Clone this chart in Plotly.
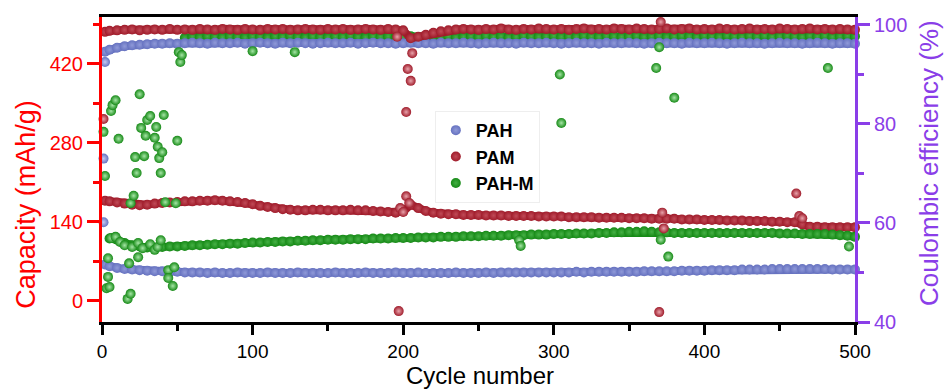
import plotly.graph_objects as go

# ---- data -----------------------------------------------------------------
# cycle positions of the dense bands
cycles = [2] + list(range(5, 501, 5))

# discharge capacity (mAh/g), one value per entry of `cycles`
pah_capacity = [
    64, 61, 58, 56, 55, 54, 53, 52, 52, 51,
    51, 50, 50, 50, 49, 50, 49, 49, 50, 49,
    49, 49, 50, 49, 49, 49, 50, 49, 49, 49,
    49, 50, 49, 49, 49, 50, 49, 49, 49, 50,
    49, 49, 50, 49, 49, 49, 49, 50, 49, 49,
    49, 50, 49, 50, 50, 50, 50, 50, 50, 50,
    50, 50, 50, 51, 50, 51, 51, 51, 51, 51,
    51, 51, 52, 52, 52, 52, 52, 53, 53, 53,
    53, 54, 54, 54, 54, 55, 55, 55, 55, 56,
    56, 56, 56, 56, 56, 56, 56, 55, 55, 55,
    55]
pam_capacity = [
    177, 176, 174, 172, 170, 169, 170, 172, 173, 174,
    175, 176, 176, 177, 177, 178, 177, 176, 175, 173,
    171, 168, 166, 164, 162, 161, 160, 160, 161, 161,
    160, 160, 160, 161, 160, 160, 159, 158, 157, 156,
    158, 170, 164, 159, 156, 154, 153, 153, 152, 152,
    152, 151, 151, 151, 150, 150, 150, 150, 149, 149,
    149, 149, 148, 148, 148, 148, 147, 147, 147, 147,
    146, 146, 146, 145, 145, 145, 145, 144, 144, 144,
    143, 143, 143, 142, 142, 142, 141, 141, 141, 140,
    140, 139, 139, 135, 131, 131, 130, 130, 130, 130,
    130]
pahm_capacity = [
    None, 110, 108, 102, 98, 96, 94, 93, 95, 96,
    96, 97, 98, 98, 99, 100, 100, 101, 101, 102,
    103, 103, 104, 104, 105, 105, 106, 106, 107, 107,
    108, 108, 108, 109, 109, 109, 110, 110, 110, 111,
    111, 111, 112, 112, 112, 113, 113, 113, 114, 114,
    114, 115, 115, 115, 116, 116, 116, 117, 117, 117,
    118, 118, 118, 119, 119, 119, 120, 120, 121, 121,
    122, 122, 123, 122, 121, 121, 120, 120, 120, 120,
    120, 120, 120, 120, 120, 120, 120, 120, 120, 120,
    119, 119, 119, 118, 118, 118, 118, 117, 116, 115,
    113]

# coulombic efficiency (%), one value per entry of `cycles`
pah_ce = [
    94.6, 95.0, 95.4, 95.7, 95.9, 96.0, 96.1, 96.2, 96.2, 96.3,
    96.2, 96.3, 96.4, 96.3, 96.2, 96.4, 96.3, 96.3, 96.4, 96.2,
    96.3, 96.4, 96.3, 96.2, 96.4, 96.3, 96.4, 96.3, 96.2, 96.3,
    96.4, 96.3, 96.3, 96.4, 96.2, 96.3, 96.4, 96.3, 96.3, 96.2,
    96.3, 96.4, 96.3, 96.3, 96.2, 96.4, 96.3, 96.3, 96.4, 96.3,
    96.2, 96.3, 96.4, 96.3, 96.3, 96.2, 96.4, 96.3, 96.3, 96.4,
    96.3, 96.2, 96.3, 96.4, 96.3, 96.3, 96.2, 96.4, 96.3, 96.3,
    96.4, 96.3, 96.2, 96.3, 96.4, 96.3, 96.3, 96.2, 96.4, 96.3,
    96.3, 96.4, 96.3, 96.2, 96.3, 96.4, 96.3, 96.3, 96.2, 96.3,
    96.4, 96.3, 96.3, 96.2, 96.3, 96.4, 96.3, 96.2, 96.3, 96.3,
    96.2]
pam_ce = [
    98.6, 98.8, 98.9, 99.0, 99.1, 98.9, 99.0, 99.1, 99.0, 99.2,
    99.0, 99.1, 99.0, 99.2, 99.1, 99.0, 99.2, 99.1, 99.0, 99.2,
    99.1, 99.0, 99.2, 99.1, 99.2, 99.0, 99.1, 99.2, 99.1, 99.0,
    99.2, 99.1, 99.2, 99.0, 99.1, 99.2, 99.1, 99.0, 99.2, 99.1,
    98.9, 97.3, 97.6, 98.0, 98.4, 98.7, 98.9, 99.1, 99.2, 99.1,
    99.0, 99.2, 99.1, 99.3, 99.1, 99.0, 99.2, 99.1, 99.3, 99.2,
    99.1, 99.2, 99.0, 99.2, 99.3, 99.1, 99.2, 99.1, 99.3, 99.2,
    99.1, 99.3, 99.2, 99.1, 99.2, 99.3, 99.1, 99.2, 99.3, 99.1,
    99.2, 99.1, 99.3, 99.2, 99.1, 99.2, 99.3, 99.1, 99.2, 99.1,
    99.3, 99.2, 99.1, 99.2, 99.3, 99.1, 99.2, 99.1, 99.2, 99.1,
    99.0]
pahm_ce = [
    None, None, None, None, None, None, None, None, None, None,
    None, 97.4, 97.6, 97.5, 97.7, 97.6, 97.5, 97.7, 97.6, 97.5,
    97.7, 97.6, 97.5, 97.7, 97.6, 97.8, 97.6, 97.5, 97.7, 97.6,
    97.5, 97.7, 97.6, 97.8, 97.6, 97.5, 97.7, 97.6, 97.7, 97.5,
    97.6, 97.7, 97.5, 97.6, 97.8, 97.6, 97.7, 97.5, 97.6, 97.7,
    97.6, 97.8, 97.6, 97.7, 97.5, 97.6, 97.8, 97.7, 97.6, 97.7,
    97.8, 97.6, 97.7, 97.6, 97.8, 97.7, 97.6, 97.8, 97.7, 97.6,
    97.7, 97.8, 97.6, 97.7, 97.8, 97.6, 97.7, 97.8, 97.7, 97.6,
    97.8, 97.7, 97.6, 97.8, 97.7, 97.6, 97.8, 97.7, 97.8, 97.6,
    97.7, 97.8, 97.7, 97.6, 97.8, 97.7, 97.8, 97.6, 97.7, 97.8,
    97.7]

# individual scattered cycles (outliers away from the bands)
pah_cap_x = [1]
pah_cap_y = [139]
pah_ce_x = [1, 2]
pah_ce_y = [73.0, 92.5]

pam_cap_x = [198, 200, 202, 204, 372, 373, 461, 463, 465]
pam_cap_y = [164, 157, 185, 173, 156, 128, 190, 150, 146]
pam_ce_x = [1, 196, 197, 202, 203, 205, 206, 370, 371]
pam_ce_y = [81.0, 97.6, 42.2, 82.4, 91.1, 88.7, 94.3, 42.0, 100.6]

pahm_cap_x = [3, 4, 4, 5, 17, 18, 19, 24,
              6, 9, 12, 15, 20, 24, 27, 32, 35, 37, 39,
              44, 44, 47, 48, 277, 278, 371, 376, 496]
pahm_cap_y = [22, 42, 75, 24, 3, 66, 12, 77,
              111, 113, 104, 98, 95, 102, 93, 100, 90, 95, 107,
              54, 40, 26, 59, 107, 97, 108, 78, 96]
pahm_ce_x = [1, 2, 6, 7, 9, 11, 22, 23, 25, 26,
             28, 29, 30, 32, 35, 36, 37, 38, 39, 40,
             41, 50, 19, 21, 42, 49, 51, 52, 53, 100,
             128, 304, 305, 368, 370, 380, 482]
pahm_ce_y = [78.4, 69.5, 82.6, 83.8, 84.8, 77.0, 73.3, 70.1, 86.0, 79.2,
             73.5, 77.6, 80.8, 81.6, 77.2, 79.4, 75.4, 73.1, 70.1, 74.3,
             81.8, 76.6, 64.0, 65.5, 64.2, 64.0, 94.5, 92.5, 93.9, 94.7,
             94.5, 90.0, 80.2, 91.3, 95.5, 85.3, 91.3]

# ---- styling ----------------------------------------------------------------
FONT = "Arial, 'Liberation Sans', sans-serif"
# (body colour, band highlight, ball highlight)
BLUE = ("#6672c0", "#8f99d8", "#c4caf2")
RED = ("#a01c2b", "#c04a57", "#e8a3ab")
GREEN = ("#178a17", "#45b045", "#a6e6a6")
CAP_RED = "#ff0000"
CE_PURPLE = "#8a3ee8"

fig = go.Figure()


def add_band(x, y, col, axis, name, rank=None):
    # dense run of cycles: a solid stroke with shaded balls on top
    fig.add_trace(go.Scatter(
        x=x, y=y, mode="lines", yaxis=axis, showlegend=False,
        hoverinfo="skip", cliponaxis=False,
        line=dict(color=col[0], width=8)))
    fig.add_trace(go.Scatter(
        x=x, y=y, mode="markers", name=name, yaxis=axis,
        showlegend=rank is not None, legendrank=rank or 1000,
        hoverinfo="skip", cliponaxis=False,
        marker=dict(size=10, color=col[0],
                    gradient=dict(type="radial", color=col[1]),
                    line=dict(width=0))))


def add_balls(x, y, col, axis, name):
    fig.add_trace(go.Scatter(
        x=x, y=y, mode="markers", name=name, yaxis=axis, showlegend=False,
        hoverinfo="skip", cliponaxis=False,
        marker=dict(size=10, color=col[0],
                    gradient=dict(type="radial", color=col[2]),
                    line=dict(width=0))))


# efficiency bands (green sits beneath the other two)
add_band(cycles, pahm_ce, GREEN, "y2", "PAH-M")
add_band(cycles, pah_ce, BLUE, "y2", "PAH")
add_band(cycles, pam_ce, RED, "y2", "PAM")
# capacity bands
add_band(cycles, pah_capacity, BLUE, "y", "PAH", 1)
add_band(cycles, pam_capacity, RED, "y", "PAM", 2)
add_band(cycles, pahm_capacity, GREEN, "y", "PAH-M", 3)
# scattered cycles
add_balls(pah_cap_x, pah_cap_y, BLUE, "y", "PAH")
add_balls(pah_ce_x, pah_ce_y, BLUE, "y2", "PAH")
add_balls(pam_cap_x, pam_cap_y, RED, "y", "PAM")
add_balls(pam_ce_x, pam_ce_y, RED, "y2", "PAM")
add_balls(pahm_cap_x, pahm_cap_y, GREEN, "y", "PAH-M")
add_balls(pahm_ce_x, pahm_ce_y, GREEN, "y2", "PAH-M")

tickfont = dict(family=FONT, size=20)

fig.update_layout(
    width=945, height=390,
    margin=dict(l=102, r=90, t=17, b=68),
    paper_bgcolor="white", plot_bgcolor="white",
    font=dict(family=FONT),
    legend=dict(
        x=0.442, y=0.692, xanchor="left", yanchor="top",
        font=dict(family=FONT, size=18, color="black", weight="bold"),
        bgcolor="rgba(255,255,255,0)", bordercolor="#eeeeee", borderwidth=1,
        traceorder="normal",
    ),
    xaxis=dict(
        range=[0, 500], tick0=0, dtick=100,
        showline=True, linecolor="black", linewidth=3, mirror=True,
        ticks="outside", ticklen=10, tickwidth=3, tickcolor="black",
        minor=dict(dtick=50, ticks="outside", ticklen=6, tickwidth=3,
                   tickcolor="black"),
        showgrid=False, zeroline=False,
        tickfont=dict(family=FONT, size=19, color="black"),
    ),
    yaxis=dict(
        range=[-38, 503], tick0=0, dtick=140,
        showline=True, linecolor=CAP_RED, linewidth=3,
        ticks="outside", ticklen=12, tickwidth=3, tickcolor=CAP_RED,
        minor=dict(dtick=70, ticks="outside", ticklen=6, tickwidth=3,
                   tickcolor=CAP_RED),
        showgrid=False, zeroline=False,
        tickfont=dict(tickfont, color=CAP_RED),
    ),
    yaxis2=dict(
        overlaying="y", side="right", anchor="x",
        range=[40, 101.6], tick0=40, dtick=20,
        showline=True, linecolor=CE_PURPLE, linewidth=3,
        ticks="outside", ticklen=12, tickwidth=3, tickcolor=CE_PURPLE,
        minor=dict(dtick=10, ticks="outside", ticklen=6, tickwidth=3,
                   tickcolor=CE_PURPLE),
        showgrid=False, zeroline=False,
        tickfont=dict(tickfont, color=CE_PURPLE),
    ),
    annotations=[
        dict(text="Capacity (mAh/g)", textangle=-90, showarrow=False,
             xref="paper", yref="paper", x=-0.102, y=0.385,
             xanchor="center", yanchor="middle",
             font=dict(family=FONT, size=27, color=CAP_RED)),
        dict(text="Coulombic efficiency (%)", textangle=-90, showarrow=False,
             xref="paper", yref="paper", x=1.099, y=0.52,
             xanchor="center", yanchor="middle",
             font=dict(family=FONT, size=26, color=CE_PURPLE)),
        dict(text="Cycle number", showarrow=False, borderpad=0,
             xref="paper", yref="paper", x=0.502, y=-0.2225,
             xanchor="center", yanchor="bottom",
             font=dict(family=FONT, size=24, color="black")),
    ],
)

fig.write_html("out.html")
